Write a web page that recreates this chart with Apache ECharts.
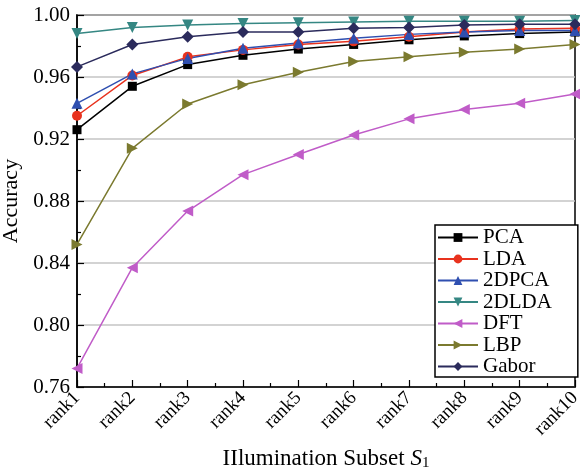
<!DOCTYPE html>
<html>
<head>
<meta charset="utf-8">
<script src="https://cdn.jsdelivr.net/npm/echarts@6/dist/echarts.min.js"></script>
<style>
  html, body { margin: 0; padding: 0; background: #fff; }
  #chart { width: 580px; height: 473px; }
</style>
</head>
<body>
<div id="chart"></div>
<script>
const categories = ['rank1', 'rank2', 'rank3', 'rank4', 'rank5', 'rank6', 'rank7', 'rank8', 'rank9', 'rank10']
const yTicks = [0.76, 0.80, 0.84, 0.88, 0.92, 0.96, 1.00]

const pca   = [0.926, 0.954, 0.968, 0.974, 0.978, 0.981, 0.984, 0.9865, 0.988, 0.989]
const lda   = [0.935, 0.961, 0.973, 0.9775, 0.981, 0.983, 0.986, 0.989, 0.991, 0.9915]
const dpca  = [0.943, 0.962, 0.972, 0.9785, 0.982, 0.985, 0.9875, 0.989, 0.990, 0.990]
const dlda  = [0.988, 0.992, 0.9935, 0.9945, 0.995, 0.9955, 0.996, 0.996, 0.996, 0.9965]
const dft   = [0.772, 0.837, 0.8735, 0.897, 0.910, 0.9226, 0.933, 0.939, 0.943, 0.949]
const lbp   = [0.852, 0.914, 0.9426, 0.955, 0.963, 0.970, 0.973, 0.976, 0.978, 0.981]
const gabor = [0.9665, 0.981, 0.986, 0.989, 0.989, 0.9915, 0.992, 0.9935, 0.994, 0.994]

const font = 'Liberation Serif, Times New Roman, serif'

const seriesDefs = [
  { name: 'PCA', data: pca, color: '#000000', symbol: 'rect', rotate: 0, size: 9 },
  { name: 'LDA', data: lda, color: '#e8321e', symbol: 'circle', rotate: 0, size: 10 },
  { name: '2DPCA', data: dpca, color: '#2f4fb0', symbol: 'triangle', rotate: 0, size: 11 },
  { name: '2DLDA', data: dlda, color: '#358783', symbol: 'triangle', rotate: 180, size: 11 },
  { name: 'DFT', data: dft, color: '#c05cc8', symbol: 'triangle', rotate: 90, size: 11 },
  { name: 'LBP', data: lbp, color: '#7b7a2f', symbol: 'triangle', rotate: -90, size: 11 },
  { name: 'Gabor', data: gabor, color: '#2b2b5c', symbol: 'diamond', rotate: 0, size: 12 }
]

const chart = echarts.init(document.getElementById('chart'))

const series = seriesDefs.map(s => ({
  name: s.name,
  type: 'line',
  data: s.data.map((v, i) => [i, v]),
  symbol: s.symbol,
  symbolRotate: s.rotate,
  symbolSize: s.size,
  showAllSymbol: true,
  lineStyle: { width: 1.5, color: s.color },
  itemStyle: { color: s.color },
  z: 3
}))

const option = {
  animation: false,
  grid: {
    left: 77, right: 5, top: 15, bottom: 86,
    outerBoundsMode: 'none',
    containLabel: false,
    show: true, borderColor: '#000', borderWidth: 1.5, backgroundColor: 'transparent'
  },
  legend: {
    orient: 'vertical',
    left: 435, top: 225,
    itemWidth: 40, itemHeight: 11,
    itemGap: 0.5,
    padding: [2, 26, 0, 2],
    backgroundColor: '#fff',
    borderColor: '#000',
    borderWidth: 1.5,
    textStyle: { fontFamily: font, fontSize: 21, lineHeight: 21, color: '#000' },
    data: seriesDefs.map(s => s.name)
  },
  xAxis: {
    type: 'value',
    min: 0, max: categories.length - 1, interval: 1,
    name: '{n|IIlumination Subset }{s|S}{sub|1}',
    nameLocation: 'middle',
    nameGap: 60,
    nameTextStyle: {
      rich: {
        n: { fontFamily: font, fontSize: 23, lineHeight: 24, color: '#000' },
        s: { fontFamily: font, fontSize: 23, lineHeight: 24, fontStyle: 'italic', color: '#000' },
        sub: { fontFamily: font, fontSize: 15, lineHeight: 24, color: '#000', verticalAlign: 'bottom', padding: [8, 0, 0, 0] }
      }
    },
    axisLine: { show: true, lineStyle: { color: '#000', width: 1.5 } },
    axisTick: { show: true, inside: true, length: 7, lineStyle: { color: '#000', width: 1.2 } },
    minorTick: { show: true, splitNumber: 2, length: 4, lineStyle: { color: '#000', width: 1.2 } },
    splitLine: { show: false },
    axisLabel: {
      rotate: 45,
      margin: 8,
      fontFamily: font, fontSize: 19, color: '#000',
      formatter: v => categories[v] || ''
    }
  },
  yAxis: {
    type: 'value',
    min: 0.76, max: 1.0, interval: 0.04,
    name: 'Accuracy',
    nameLocation: 'middle',
    nameGap: 46,
    nameTextStyle: { fontFamily: font, fontSize: 22, color: '#000' },
    axisLine: { show: true, lineStyle: { color: '#000', width: 1.5 } },
    axisTick: { show: true, inside: true, length: 7, lineStyle: { color: '#000', width: 1.2 } },
    minorTick: { show: true, splitNumber: 2, length: 4, lineStyle: { color: '#000', width: 1.2 } },
    splitLine: { show: true, lineStyle: { color: '#c4c4c4', width: 1.5 } },
    axisLabel: {
      fontFamily: font, fontSize: 21, color: '#000', margin: 7,
      formatter: v => {
        const t = yTicks.find(x => Math.abs(x - v) < 1e-6)
        return t !== undefined ? t.toFixed(2) : v.toFixed(2)
      }
    }
  },
  series: series
}

chart.setOption(option)
</script>
</body>
</html>
